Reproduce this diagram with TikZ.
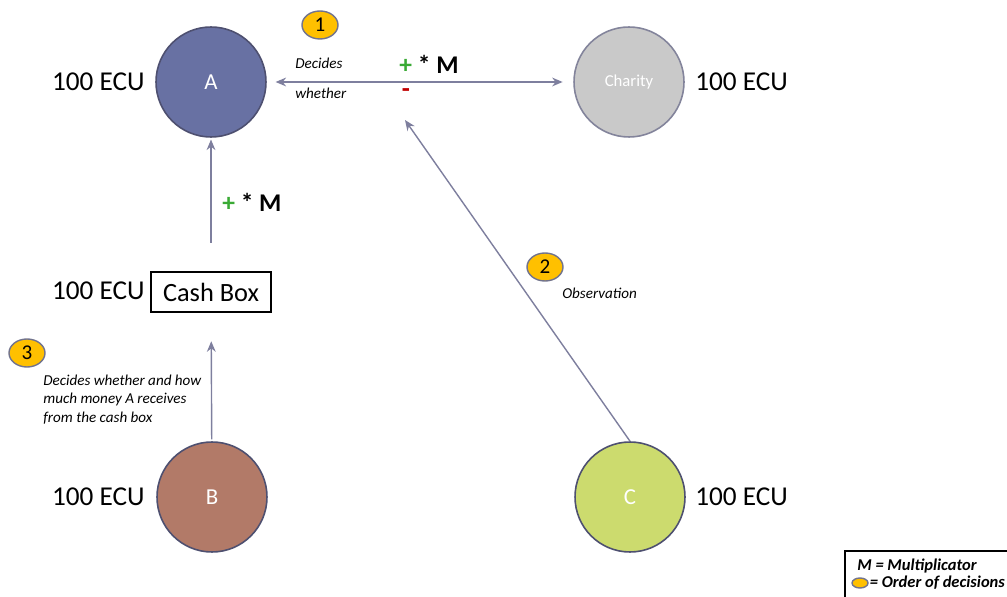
\documentclass[tikz,border=0pt]{standalone}
\usepackage{fontspec}
\setmainfont{Carlito}
\usetikzlibrary{arrows.meta,shapes.geometric}

\definecolor{playera}{HTML}{6871A3}
\definecolor{playerb}{HTML}{B27A68}
\definecolor{playerc}{HTML}{CCDB6E}
\definecolor{charityc}{HTML}{C9C9C9}
\definecolor{rim}{HTML}{4E5070}
\definecolor{badge}{HTML}{FFC000}
\definecolor{linkc}{HTML}{7E7F9E}
\definecolor{plusg}{HTML}{3AAA35}
\definecolor{minusr}{HTML}{C00000}

\tikzset{
  player/.style={circle,draw=rim,line width=0.9pt,minimum size=2.2cm,inner sep=0pt,
    text=white,font=\fontsize{13}{15}\selectfont},
  badgenode/.style={ellipse,draw=rim!80,line width=0.8pt,fill=badge,minimum width=0.72cm,
    minimum height=0.56cm,inner sep=0pt,font=\fontsize{12}{14}\selectfont},
  ecu/.style={inner sep=0pt,font=\fontsize{15.5}{17}\selectfont},
  note/.style={inner sep=0pt,font=\fontsize{8.6}{10.3}\selectfont\itshape,align=left},
  legendtext/.style={inner sep=0pt,font=\fontsize{9.4}{11}\selectfont\bfseries\itshape},
  link/.style={draw=linkc,line width=0.8pt,-{Stealth[length=6pt,width=5pt]}}
}

\newcommand{\multm}{\fontsize{14.5}{16}\selectfont\textcolor{plusg}{\textbf{+}} \textbf{* M}}

\begin{document}
\begin{tikzpicture}[x=0.02cm,y=-0.02cm]
  \useasboundingbox (0,0) rectangle (1007,597);

  % players
  \node [player,fill=playera] (A) at (211,82) {A};
  \node [player,fill=charityc,draw=rim!70,font=\fontsize{9.5}{11}\selectfont] (charity) at (629,82) {Charity};
  \node [player,fill=playerb] (B) at (212,497) {B};
  \node [player,fill=playerc] (C) at (630,497) {C};
  \node [draw,line width=1.3pt,minimum width=2.4cm,minimum height=0.8cm,inner sep=0pt,
    font=\fontsize{15}{17}\selectfont] (cash) at (211,292) {Cash Box};

  % endowments
  \node [ecu,anchor=east] (ecua) at (145,82) {100 ECU};
  \node [ecu,anchor=west] (ecuch) at (695,82) {100 ECU};
  \node [ecu,anchor=east] (ecucash) at (145,291) {100 ECU};
  \node [ecu,anchor=east] (ecub) at (145,497) {100 ECU};
  \node [ecu,anchor=west] (ecuc) at (695,497) {100 ECU};

  % connectors
  \coordinate (obs) at (405,120);
  \draw [link,arrows={Stealth[length=6pt,width=5pt]-Stealth[length=6pt,width=5pt]},
    shorten <=5pt,shorten >=6pt] (A) -- (charity);
  \draw [link,shorten <=16pt,shorten >=1pt] (cash) -- (A);
  \draw [link,shorten <=1pt,shorten >=16pt] (B) -- (cash);
  \draw [link] (C.north) -- (obs);

  % labels
  \node [note,anchor=west] (dec) at (295,63) {Decides};
  \node [note,anchor=west] (whe) at (295,93) {whether};
  \node [anchor=west,inner sep=0pt] (m1) at (399,64) {\multm};
  \node [anchor=center,text=minusr,font=\fontsize{15}{16}\selectfont\bfseries] (minus) at (406,93) {-};
  \node [anchor=west,inner sep=0pt] (m2) at (222,202) {\multm};
  \node [note,anchor=west] (obstext) at (562,293) {Observation};
  \node [note,anchor=north west] (btext) at (43,375) {Decides whether and how\\much money A receives\\from the cash box};

  % order of decisions
  \node [badgenode] (one) at (320,25) {1};
  \node [badgenode] (two) at (545,267) {2};
  \node [badgenode] (three) at (27,353) {3};

  % legend
  \draw [line width=0.8pt] (1012,551) -- (845,551) -- (845,602);
  \node [legendtext,anchor=west] (lm) at (857,566) {M = Multiplicator};
  \node [badgenode,minimum width=0.32cm,minimum height=0.2cm] (lb) at (860,583) {};
  \node [legendtext,anchor=west,inner sep=0.5pt] (lo) at (lb.east) {= Order of decisions};
\end{tikzpicture}
\end{document}
